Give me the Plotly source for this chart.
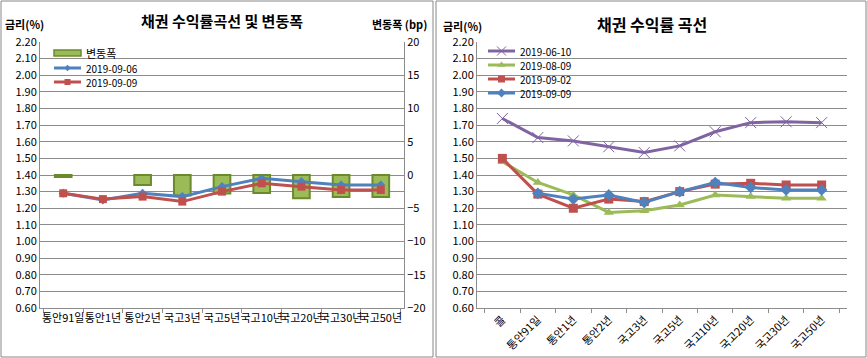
import plotly.graph_objects as go

W, H = 867, 358

# ---- data: left chart ----
left_cats = ["통안91일", "통안1년", "통안2년", "국고3년", "국고5년", "국고10년", "국고20년", "국고30년", "국고50년"]
change_bp = [-0.3, None, -1.5, -3.1, -2.8, -2.7, -3.5, -3.3, -3.3]
y_0906 = [1.29, 1.25, 1.29, 1.27, 1.33, 1.38, 1.36, 1.34, 1.34]
y_0909 = [1.29, 1.255, 1.27, 1.24, 1.30, 1.35, 1.33, 1.31, 1.31]

# ---- data: right chart ----
right_cats = ["콜", "통안91일", "통안1년", "통안2년", "국고3년", "국고5년", "국고10년", "국고20년", "국고30년", "국고50년"]
r_0610 = [1.74, 1.625, 1.605, 1.57, 1.535, 1.575, 1.66, 1.715, 1.72, 1.715]
r_0809 = [1.48, 1.355, 1.28, 1.175, 1.185, 1.22, 1.28, 1.27, 1.26, 1.26]
r_0902 = [1.50, 1.285, 1.20, 1.255, 1.24, 1.30, 1.345, 1.35, 1.34, 1.34]
r_0909 = [None, 1.29, 1.255, 1.28, 1.235, 1.30, 1.355, 1.325, 1.31, 1.31]

FONT = "Noto Sans CJK KR"
BLUE, RED, GREEN, PURPLE = "#4F81BD", "#C0504D", "#9BBB59", "#8064A2"
BAR_EDGE = "#6B8A2E"
GRID = "#8C8C8C"
LEG_FONT = 10

left_series = [
    ("2019-09-06", y_0906, BLUE, dict(symbol="diamond", size=7, color=BLUE)),
    ("2019-09-09", y_0909, RED, dict(symbol="square", size=8, color=RED)),
]
right_series = [
    ("2019-06-10", r_0610, PURPLE, dict(symbol="x-thin-open", size=11, color=PURPLE,
                                        line=dict(color=PURPLE, width=1))),
    ("2019-08-09", r_0809, GREEN, dict(symbol="triangle-up", size=9, color=GREEN)),
    ("2019-09-02", r_0902, RED, dict(symbol="square", size=9, color=RED)),
    ("2019-09-09", r_0909, BLUE, dict(symbol="diamond", size=9, color=BLUE)),
]

fig = go.Figure()

fig.add_trace(go.Bar(x=left_cats, y=change_bp, name="변동폭", xaxis="x", yaxis="y",
                     marker=dict(color=GREEN, line=dict(color=BAR_EDGE, width=2)),
                     width=0.42, showlegend=False))
for name, vals, col, mk in left_series:
    fig.add_trace(go.Scatter(x=left_cats, y=vals, name=name, xaxis="x", yaxis="y2",
                             mode="lines+markers", line=dict(color=col, width=3),
                             marker=mk, showlegend=False))
for name, vals, col, mk in right_series:
    fig.add_trace(go.Scatter(x=right_cats, y=vals, name=name, xaxis="x2", yaxis="y3",
                             mode="lines+markers", line=dict(color=col, width=3),
                             marker=mk, showlegend=False))

# ---- compact legends (Excel style), drawn on a hidden pixel-space overlay ----
annotations = []
shapes = []
# left legend
lx0, lx1, ltx = 54, 81, 84
left_leg_y = [53, 68, 82]
shapes.append(dict(type="rect", xref="x3", yref="y4", x0=lx0, x1=lx1,
                   y0=left_leg_y[0] - 3, y1=left_leg_y[0] + 3,
                   fillcolor=GREEN, line=dict(color=BAR_EDGE, width=1.5)))
annotations.append(dict(text="변동폭", x=ltx, y=left_leg_y[0], xref="x3", yref="y4",
                        showarrow=False, xanchor="left", yanchor="middle", font=dict(size=LEG_FONT + 1)))
for (name, vals, col, mk), yy in zip(left_series, left_leg_y[1:]):
    m = dict(mk)
    m["size"] = m["size"] - 2
    fig.add_trace(go.Scatter(x=[lx0, lx1], y=[yy, yy], xaxis="x3", yaxis="y4", mode="lines",
                             line=dict(color=col, width=3), showlegend=False, hoverinfo="skip"))
    fig.add_trace(go.Scatter(x=[(lx0 + lx1) / 2], y=[yy], xaxis="x3", yaxis="y4", mode="markers",
                             marker=m, showlegend=False, hoverinfo="skip"))
    annotations.append(dict(text=name, x=ltx, y=yy, xref="x3", yref="y4", showarrow=False,
                            xanchor="left", yanchor="middle", font=dict(size=LEG_FONT)))
# right legend
rx0, rx1, rtx = 488, 515, 518
right_leg_y = [51, 65, 79, 93]
for (name, vals, col, mk), yy in zip(right_series, right_leg_y):
    m = dict(mk)
    m["size"] = m["size"] - 2
    fig.add_trace(go.Scatter(x=[rx0, rx1], y=[yy, yy], xaxis="x3", yaxis="y4", mode="lines",
                             line=dict(color=col, width=3), showlegend=False, hoverinfo="skip"))
    fig.add_trace(go.Scatter(x=[(rx0 + rx1) / 2], y=[yy], xaxis="x3", yaxis="y4", mode="markers",
                             marker=m, showlegend=False, hoverinfo="skip"))
    annotations.append(dict(text=name, x=rtx, y=yy, xref="x3", yref="y4", showarrow=False,
                            xanchor="left", yanchor="middle", font=dict(size=LEG_FONT)))

ydom = [1 - 308 / H, 1 - 42 / H]
tickfont = dict(family=FONT, size=11, color="#000")

annotations += [
    dict(text="<b>채권 수익률곡선 및 변동폭</b>", x=222 / W, y=1 - 20 / H, xref="paper", yref="paper",
         showarrow=False, font=dict(family=FONT, size=15), xanchor="center", yanchor="middle"),
    dict(text="<b>금리(%)</b>", x=3 / W, y=1 - 24 / H, xref="paper", yref="paper",
         showarrow=False, font=dict(family=FONT, size=11), xanchor="left", yanchor="middle"),
    dict(text="<b>변동폭 (bp)</b>", x=429 / W, y=1 - 24 / H, xref="paper", yref="paper",
         showarrow=False, font=dict(family=FONT, size=11), xanchor="right", yanchor="middle"),
    dict(text="<b>채권 수익률 곡선</b>", x=652 / W, y=1 - 24 / H, xref="paper", yref="paper",
         showarrow=False, font=dict(family=FONT, size=16), xanchor="center", yanchor="middle"),
    dict(text="<b>금리(%)</b>", x=441 / W, y=1 - 26 / H, xref="paper", yref="paper",
         showarrow=False, font=dict(family=FONT, size=11), xanchor="left", yanchor="middle"),
]
shapes += [
    dict(type="rect", xref="paper", yref="paper", x0=1 / W, x1=433 / W, y0=1 / H, y1=1 - 1 / H,
         line=dict(color="#888", width=1)),
    dict(type="rect", xref="paper", yref="paper", x0=436 / W, x1=866 / W, y0=1 / H, y1=1 - 1 / H,
         line=dict(color="#888", width=1)),
]

fig.update_layout(
    width=W, height=H, margin=dict(l=0, r=0, t=0, b=0, pad=0, autoexpand=False),
    paper_bgcolor="white", plot_bgcolor="rgba(0,0,0,0)",
    font=dict(family=FONT, size=11, color="#000"),
    showlegend=False,
    xaxis=dict(domain=[40 / W, 404 / W], anchor="y", type="category", tickson="boundaries",
               ticks="outside", ticklen=4, tickcolor=GRID, showline=True, linecolor=GRID,
               tickfont=tickfont, showgrid=False, tickangle=0, automargin=False),
    yaxis=dict(domain=ydom, anchor="x", side="right", range=[-20, 20], dtick=5,
               showgrid=False, showline=True, linecolor=GRID, ticks="", tickfont=tickfont,
               zeroline=False, automargin=False),
    yaxis2=dict(overlaying="y", anchor="x", side="left", range=[0.6, 2.2], dtick=0.1,
                tickformat=".2f", showgrid=True, gridcolor=GRID, gridwidth=1,
                showline=True, linecolor=GRID, ticks="", tickfont=tickfont, zeroline=False,
                automargin=False),
    xaxis2=dict(domain=[477 / W, 847 / W], anchor="y3", type="category", tickson="boundaries",
                ticks="outside", ticklen=4, tickcolor=GRID, showline=True, linecolor=GRID,
                tickfont=tickfont, showgrid=False, tickangle=-45, automargin=False),
    yaxis3=dict(domain=ydom, anchor="x2", range=[0.6, 2.2], dtick=0.1, tickformat=".2f",
                showgrid=True, gridcolor=GRID, showline=True, linecolor=GRID, ticks="",
                tickfont=tickfont, zeroline=False, automargin=False),
    xaxis3=dict(domain=[0, 1], anchor="y4", range=[0, W], visible=False, fixedrange=True),
    yaxis4=dict(domain=[0, 1], anchor="x3", range=[H, 0], visible=False, fixedrange=True),
    shapes=shapes,
    annotations=annotations,
)

fig.write_html("out.html", config={"displayModeBar": False},
               post_script="document.body.style.margin='0px';document.body.style.overflow='hidden';")
